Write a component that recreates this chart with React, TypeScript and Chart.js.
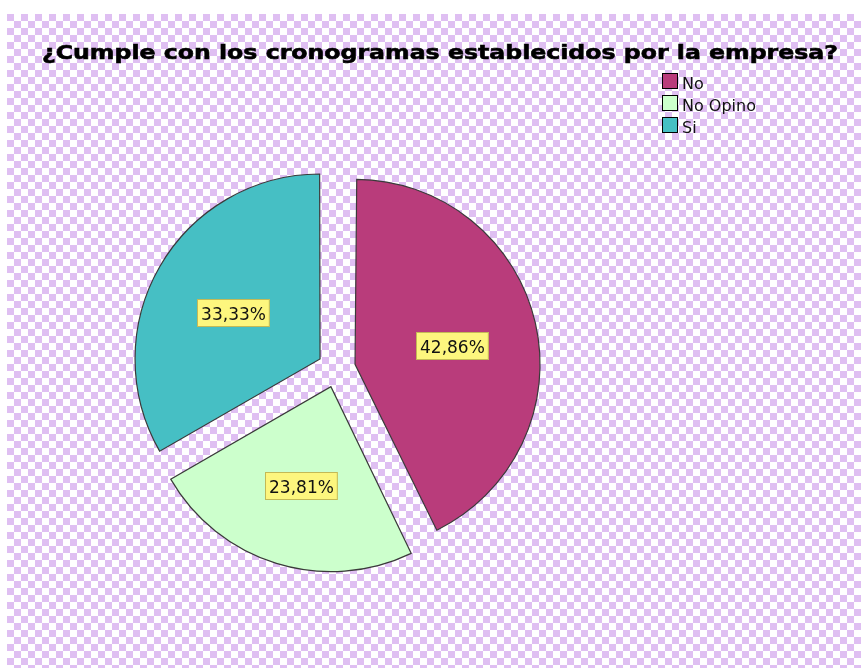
import React, { useEffect, useRef } from 'react';
import { Chart, registerables } from 'chart.js';

Chart.register(...registerables);

const titleText = '¿Cumple con los cronogramas establecidos por la empresa?';
const categories = ['No', 'No Opino', 'Si'];
const counts = [9, 5, 7];
const sliceColors = ['#b93c7b', '#ccffcc', '#46bfc4'];

const FONT = '"DejaVu Sans", "Noto Sans", sans-serif';
const PIE_RADIUS = 185;
const EXPLODE = 76; // Chart.js translates arcs by offset / 4

const fmtPct = (v: number, total: number) =>
  (v / total * 100).toFixed(2).replace('.', ',') + '%';

const decorPlugin = {
  id: 'decor',
  beforeDraw(chart: any) {
    const ctx = chart.ctx as CanvasRenderingContext2D;
    const W = chart.width, H = chart.height;
    ctx.save();
    ctx.fillStyle = '#ffffff';
    ctx.fillRect(0, 0, W, H);
    const x0 = 7, y0 = 14, s = 7;
    ctx.fillStyle = '#dfbff2';
    ctx.fillRect(x0, y0, W - x0, H - y0);
    ctx.fillStyle = '#ffffff';
    for (let j = 0, y = y0; y < H; j++, y += s) {
      for (let i = 0, x = x0; x < W; i++, x += s) {
        if ((i + j) % 2 === 1) ctx.fillRect(x, y, s, s);
      }
    }
    ctx.restore();
  },
  beforeDatasetsDraw(chart: any) {
    // keep every exploded slice at the same visible radius
    const meta = chart.getDatasetMeta(0);
    meta.data.forEach((arc: any) => {
      const circ = arc.endAngle - arc.startAngle;
      const fix = 1 - Math.sin(Math.min(Math.PI, circ));
      const off = (arc.options.offset || 0) / 4;
      arc.outerRadius = PIE_RADIUS - off * fix;
    });
  },
  afterDatasetsDraw(chart: any) {
    const ctx = chart.ctx as CanvasRenderingContext2D;
    const meta = chart.getDatasetMeta(0);
    const data = chart.data.datasets[0].data as number[];
    const total = data.reduce((a, b) => a + b, 0);
    ctx.save();
    ctx.font = `17px ${FONT}`;
    meta.data.forEach((arc: any, i: number) => {
      const p = arc.getProps(['x', 'y', 'startAngle', 'endAngle'], true);
      const off = (arc.options.offset || 0) / 4;
      const mid = (p.startAngle + p.endAngle) / 2;
      const d = off + PIE_RADIUS * 0.54;
      const cx = p.x + Math.cos(mid) * d;
      const cy = p.y + Math.sin(mid) * d + 4;
      const txt = fmtPct(data[i], total);
      const tw = ctx.measureText(txt).width;
      const bw = tw + 8, bh = 28;
      const bx = Math.round(cx - bw / 2), by = Math.round(cy - bh / 2);
      ctx.fillStyle = '#fdf67e';
      ctx.fillRect(bx, by, bw, bh);
      ctx.strokeStyle = 'rgba(170,160,70,0.7)';
      ctx.lineWidth = 1;
      ctx.strokeRect(bx + 0.5, by + 0.5, bw - 1, bh - 1);
      ctx.fillStyle = '#111111';
      ctx.textAlign = 'center';
      ctx.textBaseline = 'alphabetic';
      ctx.fillText(txt, cx, by + bh / 2 + 7);
    });
    ctx.restore();
  },
  afterDraw(chart: any) {
    const ctx = chart.ctx as CanvasRenderingContext2D;
    ctx.save();
    // title
    ctx.font = `bold 20px ${FONT}`;
    const tw = ctx.measureText(titleText).width;
    const targetW = 796;
    const sx = targetW / tw;
    ctx.translate(440, 58.5);
    ctx.scale(sx, 1);
    ctx.fillStyle = '#000000';
    ctx.strokeStyle = '#000000';
    ctx.lineWidth = 0.6;
    ctx.textAlign = 'center';
    ctx.textBaseline = 'alphabetic';
    ctx.fillText(titleText, 0, 0);
    ctx.strokeText(titleText, 0, 0);
    ctx.setTransform(1, 0, 0, 1, 0, 0);
    // legend
    const labels = chart.data.labels as string[];
    const bg = chart.data.datasets[0].backgroundColor as string[];
    ctx.font = `16px ${FONT}`;
    ctx.textAlign = 'left';
    labels.forEach((lab, i) => {
      const top = 73 + i * 22;
      ctx.fillStyle = bg[i];
      ctx.fillRect(662, top, 16, 16);
      ctx.strokeStyle = '#000000';
      ctx.lineWidth = 1;
      ctx.strokeRect(662.5, top + 0.5, 15, 15);
      ctx.fillStyle = '#111111';
      ctx.fillText(lab, 682, top + 15.5);
    });
    ctx.restore();
  },
};

export default function App() {
  const ref = useRef<HTMLCanvasElement>(null);
  useEffect(() => {
    if (!ref.current) return;
    const chart = new Chart(ref.current, {
      type: 'pie',
      data: {
        labels: categories,
        datasets: [
          {
            data: counts,
            backgroundColor: sliceColors,
            borderColor: '#3a3a3a',
            borderWidth: 1.2,
            borderJoinStyle: 'miter',
            offset: EXPLODE,
          } as any,
        ],
      },
      options: {
        responsive: false,
        animation: false,
        devicePixelRatio: 1,
        events: [],
        radius: PIE_RADIUS,
        layout: { padding: { left: 0, right: 188, top: 69, bottom: 0 } },
        plugins: {
          legend: { display: false },
          title: { display: false },
          tooltip: { enabled: false },
        },
      } as any,
      plugins: [decorPlugin],
    });
    return () => chart.destroy();
  }, []);
  return (
    <div style={{ position: 'absolute', left: 0, top: 0, width: 861, height: 668 }}>
      <canvas ref={ref} width={861} height={668} style={{ display: 'block', width: 861, height: 668 }} />
    </div>
  );
}
